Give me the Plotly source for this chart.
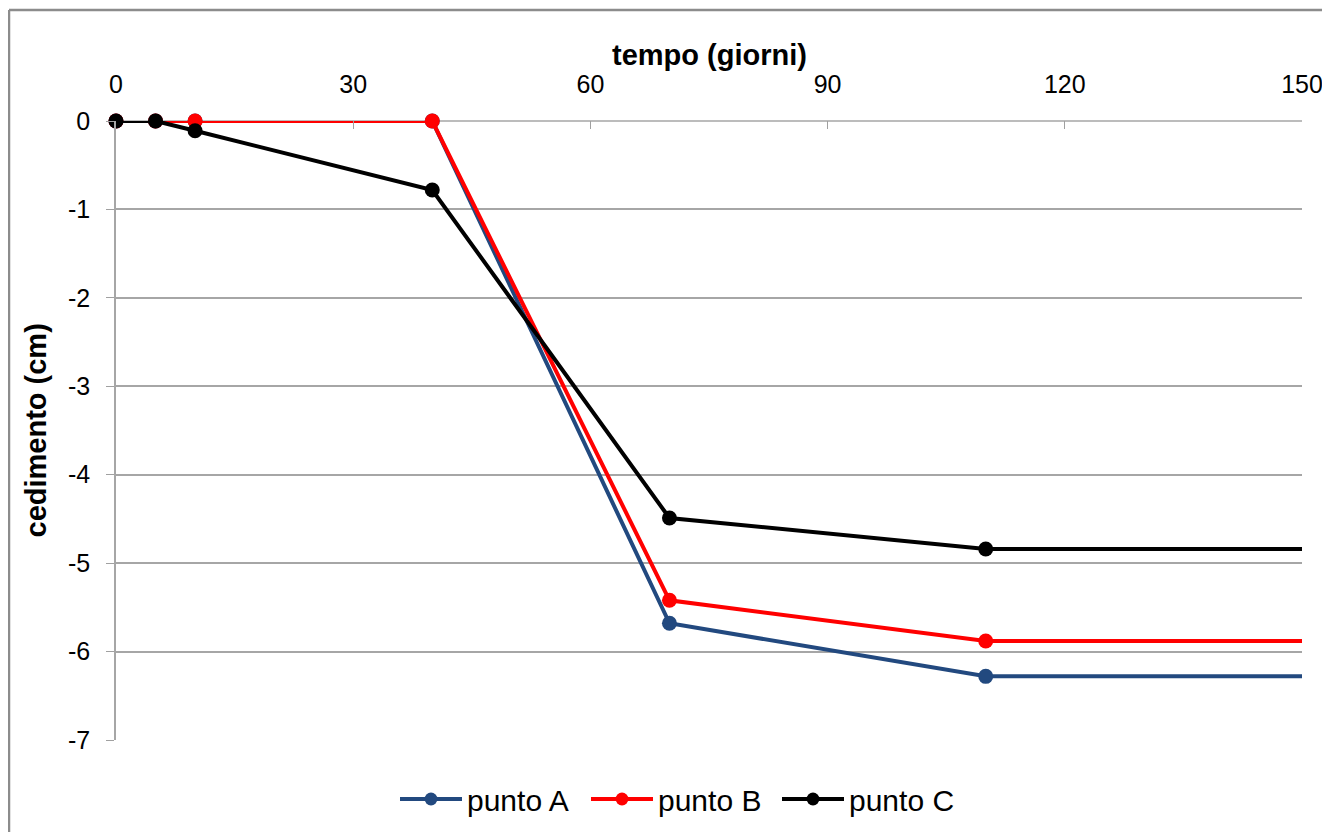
import plotly.graph_objects as go

giorni = [0, 5, 10, 40, 70, 110, 150]
punto_A = [0, 0, 0, 0, -5.68, -6.28, -6.28]
punto_B = [0, 0, 0, 0, -5.42, -5.88, -5.88]
punto_C = [0, 0, -0.11, -0.78, -4.49, -4.84, -4.84]
x_ticks = [0, 30, 60, 90, 120, 150]
y_ticks = [0, -1, -2, -3, -4, -5, -6, -7]
y_labels = ["0", "-1", "-2", "-3", "-4", "-5", "-6", "-7"]

series = [("punto A", punto_A, "#22497F"), ("punto B", punto_B, "#FF0000"), ("punto C", punto_C, "#000000")]

fig = go.Figure()
for name, vals, col in series:
    sizes = [15] * (len(vals) - 1) + [0]
    fig.add_trace(go.Scatter(
        x=giorni, y=vals, name=name, mode="lines+markers",
        line=dict(color=col, width=4),
        marker=dict(color=col, size=sizes, opacity=1, line=dict(width=0)),
        cliponaxis=False,
    ))

# page body has an 8px margin: figure drawn from (8,8)
OFF = 8
W, H = 1330 - OFF, 832 - OFF
ml, mr, mt, mb = 116 - OFF, 28, 121 - OFF, 92
pw, ph = W - ml - mr, H - mt - mb

def px_x(px):
    return (px - OFF - ml) / pw

def px_y(py):
    return (H - mb - (py - OFF)) / ph

fig.update_layout(
    width=W, height=H,
    margin=dict(l=ml, r=mr, t=mt, b=mb, autoexpand=False),
    paper_bgcolor="white", plot_bgcolor="white",
    font=dict(family="Liberation Sans, Arial, sans-serif", size=25, color="black"),
    showlegend=True,
    legend=dict(orientation="h", x=px_x(395), xanchor="left", y=px_y(799), yanchor="middle",
                font=dict(size=30), itemwidth=62, entrywidth=114, entrywidthmode="pixels",
                tracegroupgap=0, traceorder="normal"),
    xaxis=dict(
        side="top", range=[0, 150], tickvals=x_ticks, ticks="inside", ticklen=8,
        tickcolor="#A0A0A0", showgrid=False, zeroline=False, showline=False,
        ticklabelstandoff=22, automargin=False,
    ),
    yaxis=dict(
        range=[-7, 0], tickvals=y_ticks, ticktext=y_labels, ticks="outside", ticklen=8,
        tickcolor="#A0A0A0", showgrid=True, gridcolor="#A6A6A6", gridwidth=1.5,
        zeroline=False, showline=True, linecolor="#A6A6A6", linewidth=1.5,
        ticklabelstandoff=11, automargin=False,
    ),
    annotations=[
        dict(text="<b>tempo (giorni)</b>", xref="paper", yref="paper", x=0.5, y=px_y(55),
             xanchor="center", yanchor="middle", showarrow=False, font=dict(size=29)),
        dict(text="<b>cedimento (cm)</b>", xref="paper", yref="paper", x=px_x(35), y=0.5,
             xanchor="center", yanchor="middle", textangle=-90, showarrow=False, font=dict(size=29)),
    ],
    shapes=[
        dict(type="line", xref="paper", yref="paper",
             x0=px_x(9), x1=px_x(1340), y0=px_y(10), y1=px_y(10),
             line=dict(color="#8C8C8C", width=2.5), layer="below"),
        dict(type="line", xref="paper", yref="paper",
             x0=px_x(9), x1=px_x(9), y0=px_y(10), y1=px_y(840),
             line=dict(color="#8C8C8C", width=2.5), layer="below"),
        dict(type="line", xref="paper", yref="paper", x0=0, x1=1, y0=1, y1=1,
             line=dict(color="#A6A6A6", width=1.5), layer="below"),
    ],
)

fig.write_html("out.html")
